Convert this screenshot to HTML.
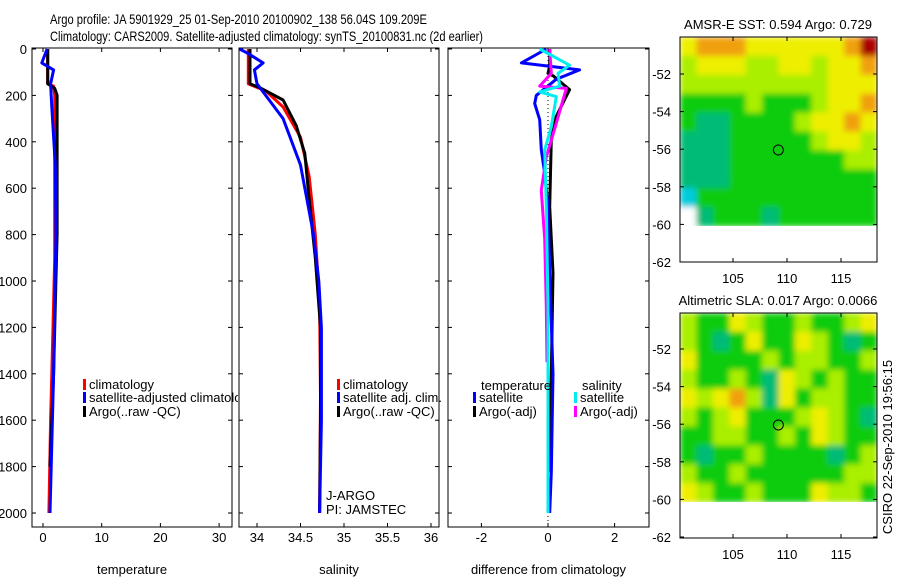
<!DOCTYPE html>
<html><head><meta charset="utf-8"><style>
html,body{margin:0;padding:0;background:#fff;}
svg{display:block;font-family:"Liberation Sans",sans-serif;}
</style></head><body>
<svg id="fig" width="900" height="580" viewBox="0 0 900 580">
<defs>
<filter id="bl" x="0" y="0" width="100%" height="100%"><feGaussianBlur stdDeviation="3"/></filter>
<clipPath id="c1"><rect x="680" y="37" width="197" height="189"/></clipPath>
<clipPath id="c2"><rect x="680" y="313" width="197" height="189"/></clipPath>
<clipPath id="cp1"><rect x="0" y="0" width="238" height="580"/></clipPath>
</defs>
<text x="50" y="24" font-size="14" textLength="377" lengthAdjust="spacingAndGlyphs">Argo profile: JA 5901929_25 01-Sep-2010 20100902_138 56.04S 109.209E</text>
<text x="50" y="41" font-size="14" textLength="433" lengthAdjust="spacingAndGlyphs">Climatology: CARS2009. Satellite-adjusted climatology: synTS_20100831.nc (2d earlier)</text>
<g id="g"></g>
<text transform="translate(892,447) rotate(-90)" font-size="13" text-anchor="middle">CSIRO 22-Sep-2010 19:56:15</text>
</svg>
<script>
// ---- data ----
const depthTicks=[0,200,400,600,800,1000,1200,1400,1600,1800,2000];
const tempTicks=[0,10,20,30];
const salTicks=[34,34.5,35,35.5,36];
const diffTicks=[-2,0,2];
const tClimD=[0,150,160,200,900,1200,1600,2000];
const tClimV=[0.8,0.8,1.8,2.0,2.0,1.7,1.3,1.0];
const tArgoD=[0,150,170,200,800,1000,1400,1600,1800];
const tArgoV=[0.8,0.8,2.0,2.4,2.4,2.2,1.8,1.5,1.2];
const tSatD=[0,60,90,150,250,500,800,1400,1800,2000];
const tSatV=[0.7,-0.2,1.8,1.3,1.5,2.1,2.2,1.8,1.4,1.2];
const sClimD=[0,150,180,250,380,550,800,1100,1500,2000];
const sClimV=[33.9,33.9,34.1,34.3,34.5,34.6,34.67,34.72,34.73,34.72];
const sArgoD=[0,150,170,220,330,450,650,900,1050,1200,1600,2000];
const sArgoV=[33.92,33.92,34.05,34.3,34.45,34.55,34.6,34.67,34.7,34.73,34.73,34.72];
const sSatD=[0,20,60,90,150,200,300,500,800,1000,1200,1600,2000];
const sSatV=[33.8,33.9,34.07,33.97,34.0,34.1,34.3,34.5,34.65,34.71,34.74,34.74,34.72];
const dTSatD=[0,60,90,130,200,235,305,435,535,680,965,1400,1825,2000];
const dTSatV=[-0.05,-0.8,0.95,0.25,-0.35,-0.4,-0.25,-0.2,-0.1,0,0.05,0.15,0.1,0.05];
const dSSatD=[0,70,105,160,185,205,335,435,680,1110,2000];
const dSSatV=[-0.25,0.65,0.3,0.35,-0.25,0.25,0.1,-0.1,-0.05,0,0];
const dTArgoD=[0,75,105,115,175,290,390,680,965,1400,1825];
const dTArgoV=[0.05,0.05,0,0.15,0.65,0.25,0.1,0.05,0.15,0.1,0.05];
const dSArgoD=[0,105,160,170,320,465,610,820,1110,1350];
const dSArgoV=[0.05,0.1,-0.25,0.55,0.25,-0.05,-0.2,-0.1,-0.05,-0.03];
const lonTicks=[105,110,115];
const latTicks=[-52,-54,-56,-58,-60,-62];
const sstGrid=[
[3,4,4,4,3,3,3,3,3,3,4,5],[2,3,3,3,2,2,3,3,2,3,3,4],[2,2,2,2,2,2,2,2,2,3,3,3],
[1,1,1,1,2,1,1,1,2,3,3,4],[1,0,0,1,1,1,1,2,3,3,4,3],[0,0,0,1,1,1,1,1,2,3,3,2],
[0,0,0,1,1,1,1,1,1,1,2,2],[0,0,0,1,1,1,1,1,1,1,1,1],[6,1,1,1,1,1,1,1,1,1,1,1],
[-1,0,1,1,1,0,1,1,1,1,1,1]];
const slaGrid=[
[2,1,1,3,2,1,1,2,1,1,2,3],[2,1,0,1,3,1,1,3,2,1,0,1],[3,1,1,1,1,2,1,2,2,1,1,2],
[2,1,1,2,1,0,3,2,1,2,1,1],[3,2,3,4,2,0,3,1,2,2,1,1],[2,1,2,3,1,1,1,2,3,2,1,0],
[1,1,2,2,1,1,2,1,3,2,1,1],[1,0,1,1,2,1,1,1,1,0,1,2],[2,1,1,2,1,1,1,1,1,1,2,2],
[3,2,1,1,2,1,1,1,3,2,2,1]];
const argoPos=[109.2,-56.04];
// ---- drawing ----
const NS='http://www.w3.org/2000/svg';
const G=document.getElementById('g');
function mk(tag,at,parent){const e=document.createElementNS(NS,tag);for(const k in at)e.setAttribute(k,at[k]);(parent||G).appendChild(e);return e;}
const yD=d=>49+d*0.232;
const xT=t=>43+t*5.87;
const xS=s=>257+(s-34)*87;
const xDf=v=>548+v*33.3;
function panel(x0,x1,xf,ticks,label,name,showY){
  const r=mk('rect',{x:x0,y:48,width:x1-x0,height:479,fill:'none',stroke:'#000','stroke-width':1});
  
  
  ticks.forEach(t=>{const x=xf(t);
    mk('line',{x1:x,x2:x,y1:48,y2:52,stroke:'#000'});mk('line',{x1:x,x2:x,y1:527,y2:523,stroke:'#000'});
    const tx=mk('text',{x:x,y:542,'font-size':13,'text-anchor':'middle'});tx.textContent=t;
    
    });
  depthTicks.forEach(d=>{const y=yD(d);
    mk('line',{x1:x0,x2:x0+4,y1:y,y2:y,stroke:'#000'});mk('line',{x1:x1,x2:x1-4,y1:y,y2:y,stroke:'#000'});
    if(showY){const tx=mk('text',{x:27,y:y+5,'font-size':13,'text-anchor':'end'});tx.textContent=d;
      
      }});
  const l=mk('text',{x:(x0+x1)/2,y:574,'font-size':13,'text-anchor':'middle'});l.textContent=label;
  
  
}
function line(D,V,xf,col,w,name){
  const p=D.map((d,i)=>xf(V[i]).toFixed(1)+','+yD(d).toFixed(1)).join(' ');
  const e=mk('polyline',{points:p,fill:'none',stroke:col,'stroke-width':w,'stroke-linejoin':'round'});
  
  
}
function leg(x,y,col,txt,name,parent){
  mk('rect',{x:x,y:y-6,width:3,height:11,fill:col},parent);
  const t=mk('text',{x:x+6,y:y+4,'font-size':13},parent);t.textContent=txt;
  
  
}
panel(32,232,xT,tempTicks,'temperature','temperature-panel',true);
panel(239,439,xS,salTicks,'salinity','salinity-panel',false);
panel(448,649,xDf,diffTicks,'difference from climatology','difference-panel',false);
line(tClimD,tClimV,xT,'#f00',3,'temp-climatology-line');
line(tArgoD,tArgoV,xT,'#000',3,'temp-argo-line');
line(tSatD,tSatV,xT,'#00f',3,'temp-satellite-line');
line(sClimD,sClimV,xS,'#f00',3,'sal-climatology-line');
line(sArgoD,sArgoV,xS,'#000',3,'sal-argo-line');
line(sSatD,sSatV,xS,'#00f',3,'sal-satellite-line');
mk('line',{x1:xDf(0),x2:xDf(0),y1:48,y2:527,stroke:'#000','stroke-dasharray':'1,3'});
line(dTArgoD,dTArgoV,xDf,'#000',3,'diff-temp-argo-line');
line(dTSatD,dTSatV,xDf,'#00f',3,'diff-temp-satellite-line');
line(dSArgoD,dSArgoV,xDf,'#f0f',3,'diff-sal-argo-line');
line(dSSatD,dSSatV,xDf,'#0ee',3,'diff-sal-satellite-line');
const lg1=mk('g',{'clip-path':'url(#cp1)'});


leg(83,385,'#f00','climatology','legend-climatology',lg1);
leg(83,398,'#00f','satellite-adjusted climatology','legend-satellite-adjusted',lg1);
leg(83,412,'#000','Argo(..raw -QC)','legend-argo',lg1);
leg(337,385,'#f00','climatology','legend-sal-climatology');
leg(337,398,'#00f','satellite adj. clim.','legend-sal-satellite');
leg(337,412,'#000','Argo(..raw -QC)','legend-sal-argo');
let t1=mk('text',{x:326,y:500,'font-size':13});t1.textContent='J-ARGO';


let t2=mk('text',{x:326,y:514,'font-size':13});t2.textContent='PI: JAMSTEC';


let t3=mk('text',{x:481,y:390,'font-size':13});t3.textContent='temperature';


let t4=mk('text',{x:582,y:390,'font-size':13});t4.textContent='salinity';


leg(473,398,'#00f','satellite','legend-diff-temp-satellite');
leg(473,412,'#000','Argo(-adj)','legend-diff-temp-argo');
leg(574,398,'#0ee','satellite','legend-diff-sal-satellite');
leg(574,412,'#f0f','Argo(-adj)','legend-diff-sal-argo');
// maps
const cmap={'-1':'#fff',0:'#00bb77',1:'#11cc11',2:'#aaee00',3:'#eeee00',4:'#f0a010',5:'#aa0000',6:'#00ccdd'};
const xLon=l=>733+(l-105)*10.8;
function map(top,grid,title,name,clip){
  const latTop = top===37? 74-37 : 349-313;
  const yLat=la=>top+latTop+(-52-la)*18.8;
  const g=mk('g',{'clip-path':'url(#'+clip+')'});
  const gi=mk('g',{filter:'url(#bl)'},g);
  const cw=197/12,ch=189/10;
  grid.forEach((row,r)=>row.forEach((v,c)=>{
    const e=mk('rect',{x:680+c*cw,y:top+r*ch,width:cw+0.6,height:ch+0.6,fill:cmap[v]},gi);
    
    }));
  const f=mk('rect',{x:680,y:top,width:197,height:225,fill:'none',stroke:'#000'});
  
  
  latTicks.forEach(la=>{const y=yLat(la);mk('line',{x1:680,x2:684,y1:y,y2:y,stroke:'#000'});mk('line',{x1:877,x2:873,y1:y,y2:y,stroke:'#000'});
    const t=mk('text',{x:671,y:y+5,'font-size':13,'text-anchor':'end'});t.textContent=la;
    
    });
  lonTicks.forEach(lo=>{const x=xLon(lo);mk('line',{x1:x,x2:x,y1:top,y2:top+4,stroke:'#000'});mk('line',{x1:x,x2:x,y1:top+225,y2:top+221,stroke:'#000'});
    const t=mk('text',{x:x,y:top+246,'font-size':13,'text-anchor':'middle'});t.textContent=lo;
    
    });
  const c=mk('ellipse',{cx:xLon(argoPos[0]),cy:yLat(argoPos[1]),rx:5,ry:5,fill:'none',stroke:'#000'});
  
  
  const t=mk('text',{x:778,y:top-8,'font-size':13,'text-anchor':'middle'});t.textContent=title;
  
  
}
map(37,sstGrid,'AMSR-E SST: 0.594  Argo: 0.729','sst-map','c1');
map(313,slaGrid,'Altimetric SLA: 0.017  Argo: 0.0066','sla-map','c2');
</script>
</body></html>
